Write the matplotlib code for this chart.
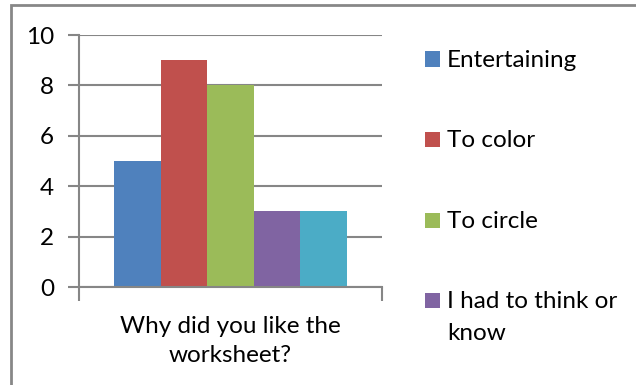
import matplotlib
matplotlib.use("Agg")
import matplotlib.pyplot as plt
from matplotlib.patches import Rectangle

series = ["Entertaining", "To color", "To circle", "I had to think or\nknow", "Other"]
values = [5, 9, 8, 3, 3]
colors = ["#4F81BD", "#C0504D", "#9BBB59", "#8064A2", "#4BACC6"]
category = "Why did you like the\nworksheet?"
yticks = [0, 2, 4, 6, 8, 10]
legend_shown = 4

W, H = 636, 385
fig = plt.figure(figsize=(W / 100, H / 100), dpi=100)
plt.rcParams['font.family'] = ['Lato', 'DejaVu Sans']
FS = 17.5

ax = fig.add_axes([79 / W, 1 - 287 / H, (382 - 79) / W, (287 - 35) / H])
bw = 0.154
n = len(values)
for i, (v, c) in enumerate(zip(values, colors)):
    x = 0.5 + (i - (n - 1) / 2) * bw
    ax.bar(x, v, width=bw, color=c, zorder=3, label=series[i])

ax.set_xlim(0, 1)
ax.set_ylim(0, 10)
ax.set_yticks(yticks)
ax.set_yticklabels([str(t) for t in yticks], fontsize=FS)
ax.yaxis.grid(True, color="#868686", lw=1.5, zorder=0)
ax.tick_params(axis="y", length=8, width=1.5, color="#868686", pad=10)
ax.set_xticks([0, 1])
ax.set_xticklabels(["", ""])
ax.tick_params(axis="x", length=10, width=1.5, color="#868686")
ax.text(0.5, -0.115, category, transform=ax.transAxes, ha="center", va="top",
        fontsize=FS, linespacing=1.5)
for s in ["top", "right"]:
    ax.spines[s].set_visible(False)
for s in ["left", "bottom"]:
    ax.spines[s].set_color("#868686")
    ax.spines[s].set_linewidth(1.5)
ax.spines["bottom"].set_zorder(4)

# legend (first entries only, as in the reference)
y0, dy = 59, 80.5
for i in range(legend_shown):
    yc = y0 + i * dy
    fig.patches.append(Rectangle((425 / W, 1 - (yc + 7.5) / H), 15 / W, 15 / H,
                                 transform=fig.transFigure, facecolor=colors[i],
                                 edgecolor="none", figure=fig))
    fig.text(447 / W, 1 - (yc - 9) / H, series[i], ha="left", va="top",
             fontsize=FS, linespacing=1.6)

fig.patches.append(Rectangle((11 / W, -0.1), 1.2, 1 - 5 / H + 0.1,
                             transform=fig.transFigure, fill=False,
                             edgecolor="#878787", lw=2, figure=fig))

fig.savefig("out.png", dpi=100)
